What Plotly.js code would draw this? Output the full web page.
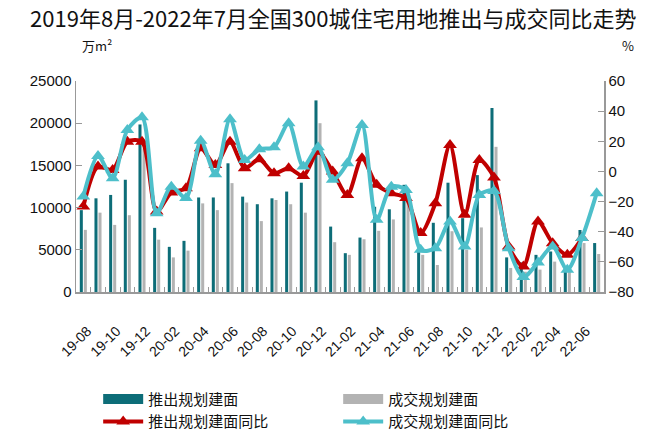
<!DOCTYPE html>
<html><head><meta charset="utf-8">
<script src="https://cdn.plot.ly/plotly-3.0.1.min.js"></script>
<style>body{margin:0;background:#fff}#chart{width:660px;height:439px}</style>
</head><body><div id="chart"></div>
<script>
const months = ['19-08','19-09','19-10','19-11','19-12',
  '20-01','20-02','20-03','20-04','20-05','20-06','20-07','20-08','20-09','20-10','20-11','20-12',
  '21-01','21-02','21-03','21-04','21-05','21-06','21-07','21-08','21-09','21-10','21-11','21-12',
  '22-01','22-02','22-03','22-04','22-05','22-06','22-07'];
const launchArea = [9700, 11100, 11500, 13300, 19850, 7600, 5350, 6060, 11200, 11200, 15250, 11300, 10400, 11100, 11900, 12950, 22700, 7750, 4600, 6450, 10100, 9800, 12700, 5000, 8200, 12950, 8750, 13850, 21800, 4100, 3500, 4400, 4800, 3000, 7350, 5800];
const dealArea = [7360, 9400, 7950, 9100, 17000, 6200, 4100, 4900, 10500, 9700, 12900, 10600, 8400, 10900, 10400, 9400, 20000, 5900, 4400, 6250, 7250, 8600, 10900, 4400, 3200, 7200, 5000, 7650, 17200, 2850, 2400, 2650, 3600, 2600, 5800, 4500];
const launchYoY = [-23.3, 3.2, 1, 19.7, 19.7, -26.6, -14, -11.1, 15.4, 4.3, 19.7, 2.1, 8.1, -1.2, 2.1, -3, 13.1, -0.1, -15.6, 8.7, -8.9, -14.4, -17.7, -40.9, -21.1, 17.5, -28.8, 7.6, -4, -49.8, -63, -33.2, -47.6, -55.3, -44.2, null];
const dealYoY = [-16.7, 10.3, -4.5, 27.5, 35.9, -27.7, -10.1, -17.7, 20.4, -1.9, 34.6, 7.6, 14.7, 16, 31.9, 3.2, 16, -5.6, 5.4, 30.8, -32.1, -10.1, -12.3, -52, -50.9, -33.2, -49.8, -15.6, -13, -50.9, -70.1, -60.4, -49.8, -65.2, -44.2, -14.4];
const seriesNames = ['推出规划建面','成交规划建面','推出规划建面同比','成交规划建面同比'];
const titleText = '2019年8月-2022年7月全国300城住宅用地推出与成交同比走势';
const leftUnit = '万m²';
const rightUnit = '%';

const tickText = months.map((m, i) => (i % 2 === 0 ? m : ''));
const cjk = '"Noto Sans CJK SC", sans-serif';
const latin = '"Liberation Sans", Arial, sans-serif';
const colLaunch = '#0d6d78', colDeal = '#b3b3b3', colLaunchYoY = '#c00000', colDealYoY = '#4dbfca';

const traces = [
  {type:'bar', x:months, y:launchArea, name:seriesNames[0], marker:{color:colLaunch}, showlegend:false},
  {type:'bar', x:months, y:dealArea, name:seriesNames[1], marker:{color:colDeal}, showlegend:false},
  // legend-only swatches (wide rectangles like the reference)
  {type:'scatter', mode:'lines', x:[null], y:[null], name:seriesNames[0], line:{color:colLaunch, width:12}},
  {type:'scatter', mode:'lines', x:[null], y:[null], name:seriesNames[1], line:{color:colDeal, width:12}},
  {type:'scatter', mode:'lines+markers', x:months, y:launchYoY, yaxis:'y2', name:seriesNames[2],
   line:{color:colLaunchYoY, width:4, shape:'spline', smoothing:0.8}, marker:{symbol:'triangle-up', size:12, color:colLaunchYoY}},
  {type:'scatter', mode:'lines+markers', x:months, y:dealYoY, yaxis:'y2', name:seriesNames[3],
   line:{color:colDealYoY, width:4, shape:'spline', smoothing:0.8}, marker:{symbol:'triangle-up', size:12, color:colDealYoY}}
];

const layout = {
  width:660, height:439,
  paper_bgcolor:'#fff', plot_bgcolor:'#fff',
  margin:{l:76, r:56, t:81, b:147, autoexpand:false},
  barmode:'group', bargap:0.45, bargroupgap:0.25,
  title:{text:titleText, font:{family:cjk, size:22, color:'#111'}, x:0.505, xref:'container', y:0.955, yref:'container', yanchor:'middle'},
  xaxis:{type:'category', automargin:false, range:[-0.5, 35.5], tickmode:'array', tickvals:months, ticktext:tickText,
    tickangle:-45, ticks:'inside', tickson:'boundaries', ticklen:5, tickcolor:'#999', tickwidth:1,
    showline:true, linecolor:'#999', linewidth:1.5, showgrid:false, zeroline:false,
    tickfont:{family:latin, size:14, color:'#111'}, ticklabelstandoff:24, ticklabelshift:4},
  yaxis:{automargin:false, range:[0,25000], dtick:5000, tickformat:'d', ticks:'inside', ticklen:6, tickcolor:'#999',
    showline:true, linecolor:'#999', linewidth:1.5, showgrid:false, zeroline:false,
    tickfont:{family:latin, size:15, color:'#111'}},
  yaxis2:{automargin:false, overlaying:'y', side:'right', range:[-80,60], dtick:20, ticks:'inside', ticklen:6, tickcolor:'#999',
    showline:true, linecolor:'#999', linewidth:1.5, showgrid:false, zeroline:false,
    tickfont:{family:latin, size:15, color:'#111'}},
  legend:{orientation:'h', x:0.042, xanchor:'left', y:-0.43, yanchor:'top', entrywidth:185, entrywidthmode:'pixels',
    font:{family:cjk, size:15, color:'#111'}, itemwidth:40, traceorder:'normal'},
  annotations:[
    {text:leftUnit, xref:'paper', yref:'paper', x:0.008, y:1.17, xanchor:'left', yanchor:'middle', showarrow:false, font:{family:cjk, size:13, color:'#111'}},
    {text:rightUnit, xref:'paper', yref:'paper', x:1.045, y:1.17, xanchor:'center', yanchor:'middle', showarrow:false, font:{family:cjk, size:13, color:'#111'}}
  ]
};
Plotly.newPlot('chart', traces, layout, {displayModeBar:false, staticPlot:true});
</script></body></html>
